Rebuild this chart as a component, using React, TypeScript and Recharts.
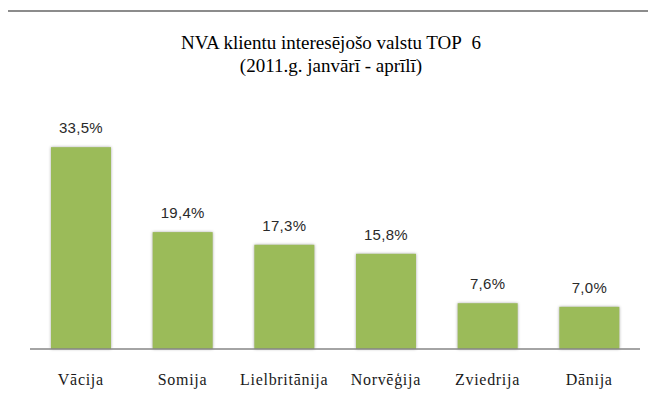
import { BarChart, Bar, XAxis, YAxis, LabelList } from 'recharts';

const countries = ['Vācija', 'Somija', 'Lielbritānija', 'Norvēģija', 'Zviedrija', 'Dānija'];
const shares = [33.5, 19.4, 17.3, 15.8, 7.6, 7.0];

const data = countries.map((name, i) => ({ name, value: shares[i] }));

const fmt = (v: number) => `${v.toFixed(1).replace('.', ',')}%`;

function ShadowBar(props: any) {
  const { x, y, width, height, fill } = props;
  return (
    <rect
      x={x}
      y={y}
      width={width}
      height={height}
      fill={fill}
      style={{ filter: 'drop-shadow(0 0 1.5px rgba(0,0,0,0.35))' }}
    />
  );
}

export default function App() {
  return (
    <div style={{ position: 'relative', width: 656, height: 409, margin: -8, background: '#fff', overflow: 'hidden' }}>
      {/* rama */}
      <div style={{ position: 'absolute', left: 6, top: 10, width: 700, height: 500, borderLeft: '2px solid #8c8c8c', borderTop: '2px solid #8c8c8c' }} />

      {/* virsraksts */}
      <div
        style={{
          position: 'absolute', left: 0, top: 31, width: 662, textAlign: 'center',
          fontFamily: "'Liberation Serif', 'Times New Roman', serif", fontSize: 19, lineHeight: '23px',
          color: '#000',
        }}
      >
        <div>NVA klientu interesējošo valstu TOP&nbsp; 6</div>
        <div>(2011.g. janvārī - aprīlī)</div>
      </div>

      <div style={{ position: 'absolute', left: 0, top: 0 }}>
        <BarChart width={656} height={409} data={data} margin={{ top: 108, right: 16, left: 30, bottom: 30 }}>
          <XAxis
            dataKey="name"
            axisLine={{ stroke: '#868686', strokeWidth: 1.5 }}
            tickLine={false}
            height={30}
            tickMargin={19}
            tick={{ fontSize: 16, fill: '#1a1a1a', fontFamily: "'Liberation Serif', 'Times New Roman', serif", letterSpacing: 0.7 }}
            interval={0}
          />
          <YAxis hide domain={[0, 40]} />
          <Bar dataKey="value" fill="#9bbb59" barSize={60} isAnimationActive={false} shape={ShadowBar}>
            <LabelList
              dataKey="value"
              position="top"
              offset={14}
              formatter={(v: any) => fmt(Number(v))}
              style={{ fontSize: 15, fill: '#2a2a2a', fontFamily: "'Liberation Sans', Arial, sans-serif", letterSpacing: 0.3 }}
            />
          </Bar>
        </BarChart>
      </div>
    </div>
  );
}
